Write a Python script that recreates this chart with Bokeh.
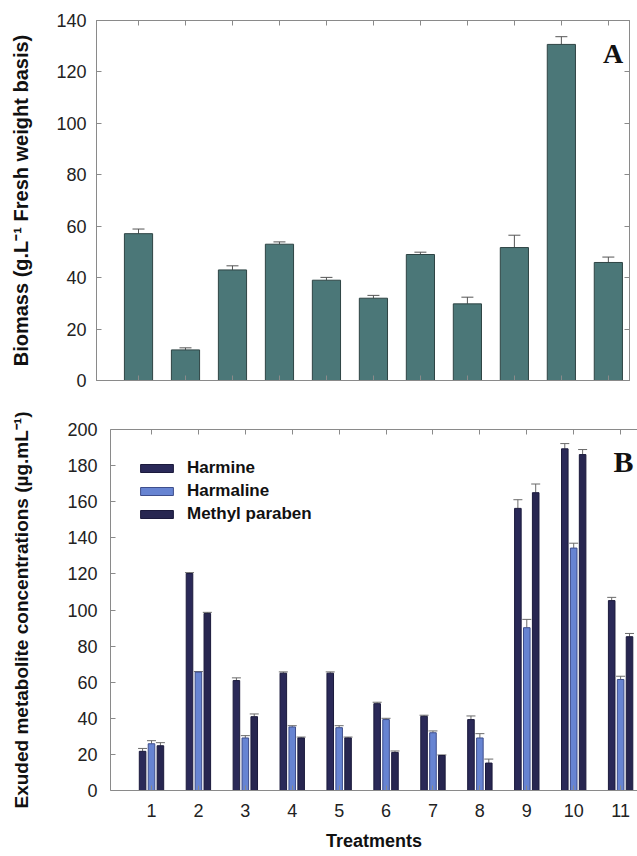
from bokeh.plotting import figure
from bokeh.models import (Range1d, LinearAxis, FixedTicker, Whisker, TeeHead,
                          ColumnDataSource, Label, Legend, LegendItem, CustomJSTickFormatter)
from bokeh.transform import dodge
from bokeh.embed import file_html
from bokeh.resources import INLINE

# ---------------- data ----------------
treatments = [1, 2, 3, 4, 5, 6, 7, 8, 9, 10, 11]
biomass = [57.1, 11.9, 43.0, 53.0, 39.0, 32.0, 49.0, 29.8, 51.7, 130.7, 45.9]
biomass_err = [1.8, 0.8, 1.6, 0.9, 1.1, 1.1, 0.9, 2.6, 4.8, 3.0, 2.1]

harmine = [21.7, 120.2, 60.9, 65.0, 65.0, 48.1, 41.1, 39.3, 156.3, 189.3, 105.2]
harmine_err = [1.6, 0.5, 1.5, 0.7, 0.7, 0.8, 0.6, 2.0, 4.8, 2.9, 1.8]
harmaline = [25.9, 65.6, 29.1, 35.2, 34.8, 39.3, 32.0, 29.1, 90.2, 134.3, 61.5]
harmaline_err = [1.7, 0.3, 1.3, 0.7, 1.1, 0.7, 1.0, 2.4, 4.6, 2.7, 1.8]
methyl = [24.8, 98.1, 40.9, 29.1, 29.1, 21.1, 19.4, 15.2, 165.0, 186.1, 85.2]
methyl_err = [1.7, 0.6, 1.5, 0.5, 0.5, 0.8, 0.3, 2.2, 4.8, 2.8, 1.8]

series_names = ["Harmine", "Harmaline", "Methyl paraben"]
a_ticks = [0, 20, 40, 60, 80, 100, 120, 140]
b_ticks = [0, 20, 40, 60, 80, 100, 120, 140, 160, 180, 200]

FONT = "Liberation Sans"
GRAY = "#8a8a8a"
empty_fmt = "return ''"


def style_axis(ax, ticks, size="18px", standoff=10):
    ax.ticker = FixedTicker(ticks=ticks)
    ax.major_tick_in = 5
    ax.major_tick_out = 0
    ax.minor_tick_line_color = None
    ax.axis_line_color = GRAY
    ax.major_tick_line_color = GRAY
    ax.major_label_text_font = FONT
    ax.major_label_text_font_size = size
    ax.major_label_text_color = "#222222"
    ax.major_label_standoff = standoff


def blank_axis(ticks):
    ax = LinearAxis(formatter=CustomJSTickFormatter(code=empty_fmt))
    style_axis(ax, ticks)
    ax.major_label_standoff = 0
    return ax


def bold_label(ax, text, size, standoff):
    ax.axis_label = text
    ax.axis_label_text_font = FONT
    ax.axis_label_text_font_style = "bold"
    ax.axis_label_text_font_size = size
    ax.axis_label_text_color = "#111111"
    ax.axis_label_standoff = standoff


# ---------------- panel A ----------------
srcA = ColumnDataSource(dict(
    t=treatments, bm=biomass,
    bm_up=[v + e for v, e in zip(biomass, biomass_err)]))

pA = figure(width=637, height=390, x_range=Range1d(0.106, 11.45), y_range=Range1d(0, 140),
            output_backend="svg", toolbar_location=None,
            min_border_left=96, min_border_right=8, min_border_top=20, min_border_bottom=10)
pA.grid.visible = False
pA.outline_line_color = GRAY
pA.background_fill_color = "white"
pA.border_fill_color = "white"

pA.xaxis.formatter = CustomJSTickFormatter(code=empty_fmt)
style_axis(pA.xaxis[0], treatments)
pA.xaxis.major_label_standoff = 0
style_axis(pA.yaxis[0], a_ticks, "18px", 10)
bold_label(pA.yaxis[0], "Biomass (g.L\u207b\u00b9 Fresh weight basis)", "20px", 21)
pA.add_layout(blank_axis(treatments), "above")
pA.add_layout(blank_axis(a_ticks), "right")

pA.vbar(x="t", top="bm", width=0.6, source=srcA,
        fill_color="#4b7778", line_color="#2e4444", line_width=1)
pA.add_layout(Whisker(source=srcA, base="t", lower="bm", upper="bm_up", dimension="height",
                      line_color="#555555", line_width=1,
                      upper_head=TeeHead(size=12, line_color="#555555", line_width=1),
                      lower_head=None))
pA.add_layout(Label(x=11.1, y=127.0, text="A", text_font="Liberation Serif",
                    text_font_style="bold", text_font_size="28px",
                    text_align="center", text_baseline="alphabetic", text_color="#111111"))

# ---------------- panel B ----------------
srcB = ColumnDataSource(dict(
    t=treatments,
    hm=harmine, hm_up=[v + e for v, e in zip(harmine, harmine_err)],
    hl=harmaline, hl_up=[v + e for v, e in zip(harmaline, harmaline_err)],
    mp=methyl, mp_up=[v + e for v, e in zip(methyl, methyl_err)]))

pB = figure(width=637, height=466, x_range=Range1d(0.126, 11.36), y_range=Range1d(0, 200),
            output_backend="svg", toolbar_location=None,
            min_border_left=110, min_border_right=0, min_border_top=39, min_border_bottom=66)
pB.grid.visible = False
pB.outline_line_color = None
pB.background_fill_color = "white"
pB.border_fill_color = "white"

style_axis(pB.xaxis[0], treatments, "18px", 13)
bold_label(pB.xaxis[0], "Treatments", "18px", 11)
style_axis(pB.yaxis[0], b_ticks, "18px", 13)
bold_label(pB.yaxis[0], "Exuded metabolite concentrations (\u00b5g.mL\u207b\u00b9)", "19px", 32)
pB.add_layout(blank_axis(treatments), "above")

offsets = [-0.19, 0.0, 0.19]
cols = [("hm", "hm_up"), ("hl", "hl_up"), ("mp", "mp_up")]
fills = ["#2a2958", "#6784d2", "#272650"]
lines = ["#1b1a3c", "#3e4e8c", "#1b1a3c"]
items = []
for name, off, (c, cu), fc, lc in zip(series_names, offsets, cols, fills, lines):
    r = pB.vbar(x=dodge("t", off, range=pB.x_range), top=c, width=0.14, source=srcB,
                fill_color=fc, line_color=lc, line_width=1)
    items.append(LegendItem(label=name, renderers=[r]))
    pB.add_layout(Whisker(source=srcB, base=dodge("t", off, range=pB.x_range), lower=c, upper=cu,
                          dimension="height", line_color="#6a6a6a", line_width=1,
                          upper_head=TeeHead(size=9, line_color="#6a6a6a", line_width=1),
                          lower_head=None))

legend = Legend(items=items, location=(26, 266), glyph_width=41, glyph_height=10,
                label_standoff=10, padding=0, spacing=3, label_height=20,
                label_text_font=FONT, label_text_font_style="bold", label_text_font_size="17px",
                label_text_color="#111111", border_line_color=None, background_fill_alpha=0)
pB.add_layout(legend)
pB.add_layout(Label(x=11.06, y=182.2, text="B", text_font="Liberation Serif",
                    text_font_style="bold", text_font_size="30px",
                    text_align="center", text_baseline="alphabetic", text_color="#111111"))

open("out.html", "w").write(file_html([pA, pB], INLINE))
